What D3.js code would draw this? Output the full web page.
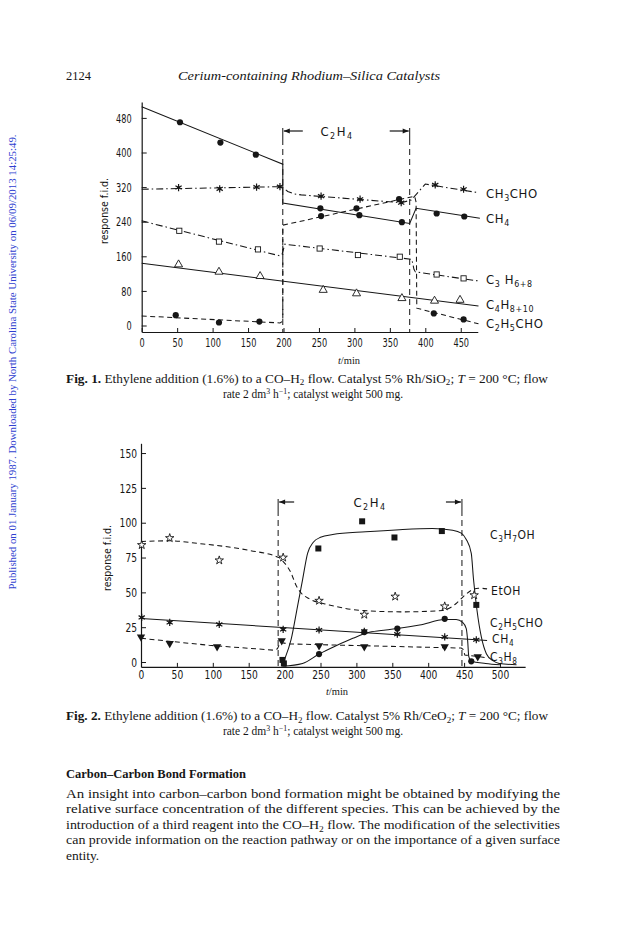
<!DOCTYPE html>
<html><head><meta charset="utf-8">
<script src="https://cdn.jsdelivr.net/npm/d3@7"></script>
<style>
body{margin:0;background:#fff}
svg{display:block}
text{white-space:pre}
</style>
</head><body>
<svg id="page" width="628" height="939"></svg>
<script>
// ================= DATA =================
// ---- Fig. 1 (Rh/SiO2) ----
const f1XTicks = [0,50,100,150,200,250,300,350,400,450];
const f1YTicks = [0,80,160,240,320,400,480];
const f1Ethylene = [199, 378];   // C2H4 on / off (min)

const f1_CH4_line = [[0,506],[199,373],[199,283],[378,236],[387,271],[477,248]];
const f1_CH4_pts  = [[54,470],[111,423],[161,395],[252,271],[307,255],[367,239],[416,259],[455,252]];

const f1_CH3CHO_line = [[0,315],[195,321],[200,318],[206,310],[215,304],[225,302],[366,284],[380,290],[400,327],[475,307]];
const f1_CH3CHO_pts  = [[52,319],[110,316],[162,320],[195,321],[253,299],[308,292],[366,284],[414,325],[454,315]];

const f1_C2H5CHO_line = [[0,22],[195,6],[199,10],[199,232],[385,299],[387,285],[388,40],[475,4]];
const f1_C2H5CHO_pts  = [[48,24],[109,7],[166,9],[253,253],[303,271],[363,292],[412,28],[454,14]];

const f1_C3H6_line = [[0,242],[195,161],[198,165],[202,188],[381,153],[384,130],[386,124],[475,103]];
const f1_C3H6_pts  = [[53,219],[109,194],[164,176],[251,178],[305,163],[364,159],[416,118],[454,109]];

const f1_C4H8_line = [[0,144],[475,45]];
const f1_C4H8_pts  = [[52,141],[109,124],[167,114],[256,82],[303,74],[367,63],[413,57],[449,59]];

const f1Names = ["CH_{3}CHO","CH_{4}","C_{3} H_{6+8}","C_{4}H_{8+10}","C_{2}H_{5}CHO"];

// ---- Fig. 2 (Rh/CeO2) ----
const f2XTicks = [0,50,100,150,200,250,300,350,400,450,500];
const f2YTicks = [0,25,50,75,100,125,150];
const f2Ethylene = [191, 447];

const f2_C3H7OH_line = [[196,-3],[200,2],[209,16],[218,40],[225,59],[232,78],[240,86],[250,89.5],[267,91.5],[313,93.5],[360,95],[406,95.8],[434,94.6],[446,92.5],[453,88],[460,78],[463,60],[468,37],[474,18],[481,6],[490,1],[499,-1],[523,-2]];
const f2_C3H7OH_pts  = [[197,1.5],[199,-1],[247,81.5],[308,101],[353,89.4],[419,94],[467,41]];

const f2_EtOH_line = [[0,86.5],[40,87],[82,85],[152,80],[192,75],[200,71],[208,65],[217,54],[224,49],[234,45.5],[262,41],[308,37],[364,36],[420,37],[439,42],[451,48],[460,51.5],[470,53],[482,52.5]];
const f2_EtOH_pts  = [[1,84],[40,89],[109,73],[198,75],[248,44],[311,34],[354,47],[423,40],[464,48]];

const f2_CH4_line = [[0,31.3],[197,24.8],[467,16],[482,15.5]];
const f2_CH4_pts  = [[1,32],[40,28.4],[109,27],[198,23.4],[248,23],[311,22],[357,20],[423,18],[467,16]];

const f2_C3H8_line = [[0,17],[95,12],[185,8.5],[190,9.5],[194,14],[206,13],[446,10],[449,9],[451,5],[469,4],[481,3]];
const f2_C3H8_pts  = [[0,18],[40,13.4],[106,11],[196,15.3],[248,11.7],[311,11],[423,11],[469,3.8]];

const f2_C2H5CHO_line = [[197,-3],[225,-1],[248,5.7],[271,11.5],[295,17],[318,21.3],[341,23],[357,24],[388,26.5],[423,30.5],[439,30.5],[448,28.5],[453,24],[455,15],[456.5,4],[460,0.5],[480,-1],[500,-2]];
const f2_C2H5CHO_pts  = [[248,5.7],[311,21.5],[357,24],[423,31],[460,0.5]];

const f2Names = ["C_{3}H_{7}OH","EtOH","C_{2}H_{5}CHO","CH_{4}","C_{3}H_{8}"];

// ---- page text ----
const headerNum = "2124";
const headerTitle = "Cerium-containing Rhodium–Silica Catalysts";
const sideNote = "Published on 01 January 1987. Downloaded by North Carolina State University on 06/09/2013 14:25:49.";
const fig1Caption = ["*{Fig. 1.} Ethylene addition (1.6%) to a CO–H_{2} flow. Catalyst 5% Rh/SiO_{2}; ~{T} = 200 °C; flow",
                     "rate 2 dm^{3} h^{−1}; catalyst weight 500 mg."];
const fig2Caption = ["*{Fig. 2.} Ethylene addition (1.6%) to a CO–H_{2} flow. Catalyst 5% Rh/CeO_{2}; ~{T} = 200 °C; flow",
                     "rate 2 dm^{3} h^{−1}; catalyst weight 500 mg."];
const heading = "Carbon–Carbon Bond Formation";
const paragraph = ["An insight into carbon–carbon bond formation might be obtained by modifying the",
                   "relative surface concentration of the different species. This can be achieved by the",
                   "introduction of a third reagent into the CO–H_{2} flow. The modification of the selectivities",
                   "can provide information on the reaction pathway or on the importance of a given surface",
                   "entity."];

// ================= DRAWING =================
const svg = d3.select('#page');
const INK = '#161616';
const SERIF = "'Liberation Serif','Times New Roman',serif";
const NARROW = "'Liberation Sans Narrow','DejaVu Sans Condensed','Liberation Sans',sans-serif";

function rich(sel, str, size) {
  const parts = str.split(/([_^*~]\{[^}]*\})/).filter(s => s.length);
  let cur = 0;
  parts.forEach(p => {
    const m = p.match(/^([_^*~])\{([^}]*)\}$/);
    let off = 0, t = p, fs = null, fw = null, fst = null;
    if (m) {
      t = m[2];
      if (m[1] === '_') { off = size * 0.24; fs = size * 0.68; }
      else if (m[1] === '^') { off = -size * 0.32; fs = size * 0.68; }
      else if (m[1] === '*') fw = 'bold';
      else fst = 'italic';
    }
    const ts = sel.append('tspan').attr('dy', (off - cur).toFixed(2)).text(t);
    if (fs) ts.attr('font-size', fs);
    if (fw) ts.attr('font-weight', fw);
    if (fst) ts.attr('font-style', fst);
    cur = off;
  });
  return sel;
}

function textLine(x, y, str, size, opts = {}) {
  const t = svg.append('text').attr('x', x).attr('y', y)
    .attr('font-family', opts.family || SERIF).attr('font-size', size).attr('fill', opts.fill || INK);
  if (opts.anchor) t.attr('text-anchor', opts.anchor);
  if (opts.weight) t.attr('font-weight', opts.weight);
  if (opts.style) t.attr('font-style', opts.style);
  if (opts.len) t.attr('textLength', opts.len).attr('lengthAdjust', 'spacingAndGlyphs');
  if (opts.ls) t.attr('letter-spacing', opts.ls);
  rich(t, str, size);
  return t;
}

// ---- header & side note ----
textLine(66, 80, headerNum, 13, {len: 25});
textLine(178, 80, headerTitle, 13.5, {style: 'italic', len: 262});
svg.append('text').attr('transform', 'translate(16,362) rotate(-90)')
  .attr('text-anchor', 'middle').attr('font-family', SERIF).attr('font-size', 10.5)
  .attr('fill', '#2f3fd0').attr('textLength', 455).attr('lengthAdjust', 'spacingAndGlyphs').text(sideNote);

// ---- markers ----
function drawMarker(g, type, cx, cy) {
  const tr = `translate(${cx},${cy})`;
  if (type === 'dot') {
    g.append('circle').attr('cx', cx).attr('cy', cy).attr('r', 3.1).attr('fill', INK);
  } else if (type === 'fsq') {
    g.append('rect').attr('x', cx - 3).attr('y', cy - 3).attr('width', 6).attr('height', 6).attr('fill', INK);
  } else if (type === 'osq') {
    g.append('rect').attr('x', cx - 2.6).attr('y', cy - 2.6).attr('width', 5.2).attr('height', 5.2)
      .attr('fill', '#fff').attr('stroke', INK).attr('stroke-width', 0.9);
  } else if (type === 'otri') {
    g.append('path').attr('transform', tr).attr('d', d3.symbol(d3.symbolTriangle, 28)())
      .attr('fill', '#fff').attr('stroke', INK).attr('stroke-width', 0.9);
  } else if (type === 'dtri') {
    g.append('path').attr('transform', tr + ' rotate(180)').attr('d', d3.symbol(d3.symbolTriangle, 30)())
      .attr('fill', INK);
  } else if (type === 'ast') {
    g.append('path').attr('transform', tr).attr('d', d3.symbol(d3.symbolAsterisk, 36)())
      .attr('fill', 'none').attr('stroke', INK).attr('stroke-width', 1.2);
    g.append('circle').attr('cx', cx).attr('cy', cy).attr('r', 1.5).attr('fill', INK);
  } else if (type === 'ostar') {
    g.append('path').attr('transform', tr).attr('d', d3.symbol(d3.symbolStar, 22)())
      .attr('fill', '#fff').attr('stroke', INK).attr('stroke-width', 0.9);
  }
}

function drawChart(cfg) {
  const g = svg.append('g');
  const {x, y} = cfg;
  // axes
  const xa = g.append('g').attr('transform', `translate(0,${y.range()[0]})`)
    .call(d3.axisBottom(x).tickValues(cfg.xTicks).tickSizeInner(-4).tickSizeOuter(0)
      .tickPadding(cfg.xPad).tickFormat(d3.format('d')));
  const ya = g.append('g').attr('transform', `translate(${x.range()[0]},0)`)
    .call(d3.axisLeft(y).tickValues(cfg.yTicks).tickSizeInner(-5).tickSizeOuter(0)
      .tickPadding(cfg.yPad).tickFormat(d3.format('d')));
  [xa, ya].forEach(a => {
    a.attr('font-family', null).attr('font-size', null);
    a.select('.domain').attr('stroke', INK).attr('stroke-width', 1.2);
    a.selectAll('.tick line').attr('stroke', INK).attr('stroke-width', 1);
    a.selectAll('.tick text').attr('fill', INK).attr('font-family', NARROW).attr('font-size', 13)
      .attr('textLength', d => String(d).length * cfg.digitW).attr('lengthAdjust', 'spacingAndGlyphs');
  });
  // axis titles
  g.append('text').attr('transform', `translate(${cfg.yTitle[0]},${cfg.yTitle[1]}) rotate(-90)`)
    .attr('text-anchor', 'middle').attr('font-family', NARROW).attr('font-size', 11).attr('fill', INK)
    .attr('textLength', 66).attr('lengthAdjust', 'spacingAndGlyphs').text('response f.i.d.');
  const xt = g.append('text').attr('x', cfg.xTitle[0]).attr('y', cfg.xTitle[1]).attr('text-anchor', 'middle')
    .attr('font-family', SERIF).attr('font-size', 10.5).attr('fill', INK);
  xt.append('tspan').attr('font-style', 'italic').text('t');
  xt.append('tspan').text('/min');

  // ethylene bracket
  const [on, off] = cfg.ethylene;
  const bT = cfg.bracketTop, yb = y.range()[0];
  [on, off].forEach(t => {
    g.append('line').attr('x1', x(t)).attr('x2', x(t)).attr('y1', bT - 2).attr('y2', bT + 9)
      .attr('stroke', INK).attr('stroke-width', 1);
    g.append('line').attr('x1', x(t)).attr('x2', x(t)).attr('y1', bT + 9).attr('y2', yb)
      .attr('stroke', INK).attr('stroke-width', 1).attr('stroke-dasharray', '6,4');
  });
  const ay = bT + 1;
  g.append('line').attr('x1', x(on) + 1).attr('x2', x(on) + cfg.arrowLen).attr('y1', ay).attr('y2', ay)
    .attr('stroke', INK).attr('stroke-width', 1.2);
  g.append('path').attr('d', `M${x(on)+1},${ay}l6,-2.5v5z`).attr('fill', INK);
  g.append('line').attr('x1', x(off) - 1).attr('x2', x(off) - cfg.arrowLen).attr('y1', ay).attr('y2', ay)
    .attr('stroke', INK).attr('stroke-width', 1.2);
  g.append('path').attr('d', `M${x(off)-1},${ay}l-6,-2.5v5z`).attr('fill', INK);
  const lab = g.append('text').attr('x', cfg.c2h4X).attr('y', ay + 5).attr('text-anchor', 'middle')
    .attr('font-family', NARROW).attr('font-size', 13).attr('fill', INK).attr('letter-spacing', 1.5);
  rich(lab, 'C_{2}H_{4}', 13);

  // series
  cfg.series.forEach(s => {
    const gen = d3.line().x(d => x(d[0])).y(d => y(d[1])).curve(s.curve || d3.curveLinear);
    g.append('path').attr('d', gen(s.line)).attr('fill', 'none').attr('stroke', INK)
      .attr('stroke-width', 1.05).attr('stroke-dasharray', s.dash || null);
    s.pts.forEach(p => drawMarker(g, s.marker, x(p[0]), y(p[1])));
  });
  // series labels
  cfg.labels.forEach((name, i) => {
    const [lx, ly] = cfg.labelPos[i];
    const t = g.append('text').attr('x', lx).attr('y', ly).attr('font-family', NARROW)
      .attr('font-size', cfg.labelSize).attr('fill', INK).attr('letter-spacing', 0.6);
    rich(t, name, cfg.labelSize);
  });
}

const DASH = '5,3.5';
const DASHDOT = '7,3,1.5,3';

// ---- Fig. 1 ----
const x1 = d3.scaleLinear().domain([0, 474]).range([141.7, 141.7 + 474 * 0.709]);
const y1 = d3.scaleLinear().domain([-15, 517]).range([332, 325.5 - 517 * 0.4325]);
drawChart({
  x: x1, y: y1, xTicks: f1XTicks, yTicks: f1YTicks, xPad: 6, yPad: 10, digitW: 5.2,
  yTitle: [108, 211], xTitle: [349, 364],
  ethylene: f1Ethylene, bracketTop: 130, arrowLen: 20, c2h4X: 337,
  series: [
    {line: f1_CH4_line, pts: f1_CH4_pts, marker: 'dot'},
    {line: f1_CH3CHO_line, pts: f1_CH3CHO_pts, marker: 'ast', dash: DASHDOT},
    {line: f1_C2H5CHO_line, pts: f1_C2H5CHO_pts, marker: 'dot', dash: DASH},
    {line: f1_C3H6_line, pts: f1_C3H6_pts, marker: 'osq', dash: DASHDOT},
    {line: f1_C4H8_line, pts: f1_C4H8_pts, marker: 'otri'}
  ],
  labels: f1Names, labelSize: 13,
  labelPos: [[486, 198], [486, 223], [486, 284], [486, 309], [486, 328]]
});

// ---- Fig. 2 ----
const x2 = d3.scaleLinear().domain([0, 535]).range([141, 141 + 535 * 0.718]);
const y2 = d3.scaleLinear().domain([-3.5, 157]).range([666.9, 443.3]);
drawChart({
  x: x2, y: y2, xTicks: f2XTicks, yTicks: f2YTicks, xPad: 3, yPad: 4, digitW: 5.8,
  yTitle: [111, 558], xTitle: [337, 695],
  ethylene: f2Ethylene, bracketTop: 501, arrowLen: 16, c2h4X: 370,
  series: [
    {line: f2_C3H7OH_line, pts: f2_C3H7OH_pts, marker: 'fsq', curve: d3.curveMonotoneX},
    {line: f2_EtOH_line, pts: f2_EtOH_pts, marker: 'ostar', dash: DASH, curve: d3.curveMonotoneX},
    {line: f2_CH4_line, pts: f2_CH4_pts, marker: 'ast'},
    {line: f2_C3H8_line, pts: f2_C3H8_pts, marker: 'dtri', dash: DASH},
    {line: f2_C2H5CHO_line, pts: f2_C2H5CHO_pts, marker: 'dot', curve: d3.curveMonotoneX}
  ],
  labels: f2Names, labelSize: 12,
  labelPos: [[490, 539], [491, 595], [490, 627], [492, 643], [490, 661]]
});

// ---- captions & body text ----
textLine(66, 382.5, fig1Caption[0], 11.5, {len: 482});
textLine(313, 397.5, fig1Caption[1], 11.5, {anchor: 'middle'});
textLine(66, 720, fig2Caption[0], 11.5, {len: 482});
textLine(313, 735, fig2Caption[1], 11.5, {anchor: 'middle'});
textLine(66, 778, heading, 12.5, {weight: 'bold'});
const paraY = [797.5, 813, 828.5, 844, 859.5];
paragraph.forEach((ln, i) => {
  const last = i === paragraph.length - 1;
  textLine(66, paraY[i], ln, 13.5, last ? {} : {len: 494});
});
</script>
</body></html>
